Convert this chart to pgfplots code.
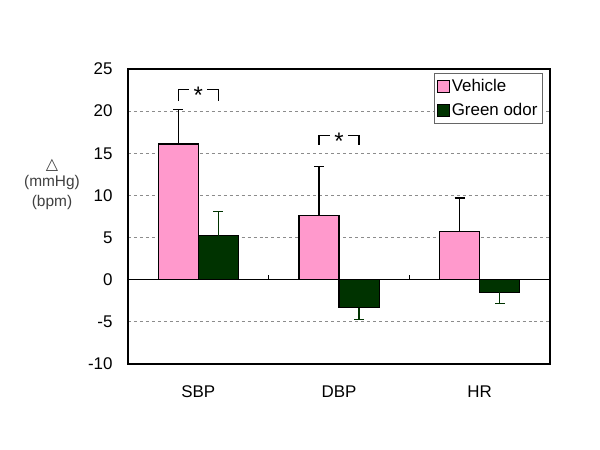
\documentclass[border=0pt]{standalone}
\usepackage{pgfplots}
\pgfplotsset{compat=1.18}
\usepackage{fontspec}
\setmainfont{Liberation Sans}
\newfontfamily\dejavu{DejaVu Sans}
\definecolor{pinkv}{HTML}{FF99CC}
\definecolor{greeno}{HTML}{003300}
\begin{document}
\begin{tikzpicture}[x=1bp,y=1bp]
\path (0,0) rectangle (600,450);
\begin{axis}[
  at={(128bp,86bp)}, anchor=south west,
  width=422bp, height=295bp, scale only axis,
  ybar,
  xmin=-0.5, xmax=2.5, ymin=-10, ymax=25,
  ytick={-10,-5,0,5,10,15,20,25},
  yticklabels={-10,-5,0,5,10,15,20,25},
  xtick={0,1,2}, xticklabels={SBP,DBP,HR},
  major tick length=0pt,
  ymajorgrids, grid style={dashed, black!45, line width=0.8pt},
  axis line style={line width=1.2pt},
  ticklabel style={font=\fontsize{17}{17}\selectfont},
  xticklabel style={yshift=-18bp},
  yticklabel style={xshift=-12bp},
  bar width=0.285,
  legend style={at={(axis description cs:0.983,0.986)}, anchor=north east,
    draw=black!60, line width=0.8pt, font=\fontsize{17}{19}\selectfont,
    inner xsep=3pt, inner ysep=4pt, row sep=6pt, cells={anchor=west}},
  legend cell align=left,
  clip=false,
]
\addplot[bar shift=-0.1425, fill=pinkv, draw=black, line width=1.2pt,
  legend image code/.code={\draw[fill=pinkv, draw=black, line width=0.8pt] (0bp,-6bp) rectangle (12bp,6bp);},
  error bars/.cd, y dir=plus, y explicit,
  error bar style={line width=1.2pt, black},
  error mark options={rotate=90, mark size=5bp, line width=1.2pt, black}]
  coordinates {(0,16.1) +- (0,4.1) (1,7.6) +- (0,5.8) (2,5.7) +- (0,4.0)};
\addlegendentry{Vehicle}
\addplot[bar shift=0.1425, fill=greeno, draw=black, line width=1.2pt,
  legend image code/.code={\draw[fill=greeno, draw=black, line width=0.8pt] (0bp,-6bp) rectangle (12bp,6bp);},
  error bars/.cd, y dir=plus, y explicit,
  error bar style={line width=1.2pt, greeno},
  error mark options={rotate=90, mark size=5bp, line width=1.2pt, greeno}]
  coordinates {(0,5.2) +- (0,2.9)};
\addlegendentry{Green odor}
\addplot[bar shift=0.1425, fill=greeno, draw=black, line width=1.2pt, forget plot,
  error bars/.cd, y dir=minus, y explicit,
  error bar style={line width=1.2pt, greeno},
  error mark options={rotate=90, mark size=5bp, line width=1.2pt, greeno}]
  coordinates {(1,-3.3) +- (0,1.4) (2,-1.5) +- (0,1.3)};
\draw[line width=1pt] (axis cs:-0.5,0) -- (axis cs:2.5,0);
\draw[line width=0.8pt] (axis cs:0.5,0) -- ([yshift=5bp]axis cs:0.5,0);
\draw[line width=0.8pt] (axis cs:1.5,0) -- ([yshift=5bp]axis cs:1.5,0);
% significance brackets
\draw[line width=1.2pt] (axis cs:-0.1425,21.2) -- (axis cs:-0.1425,22.6) -- (axis cs:-0.065,22.6);
\draw[line width=1.2pt] (axis cs:0.065,22.6) -- (axis cs:0.1425,22.6) -- (axis cs:0.1425,21.2);
\node[font=\fontsize{24}{24}\selectfont] at (axis cs:0,21.9) {*};
\draw[line width=1.2pt] (axis cs:0.8575,16.0) -- (axis cs:0.8575,17.1) -- (axis cs:0.935,17.1);
\draw[line width=1.2pt] (axis cs:1.065,17.1) -- (axis cs:1.1425,17.1) -- (axis cs:1.1425,16.0);
\node[font=\fontsize{24}{24}\selectfont] at (axis cs:1,16.4) {*};
\end{axis}
\node[font=\dejavu\fontsize{16}{16}\selectfont, text=black!75] at (52,285) {△};
\node[font=\fontsize{15.5}{16}\selectfont, text=black!75] at (52,267) {(mmHg)};
\node[font=\fontsize{15.5}{16}\selectfont, text=black!75] at (52,247) {(bpm)};
\end{tikzpicture}
\end{document}
